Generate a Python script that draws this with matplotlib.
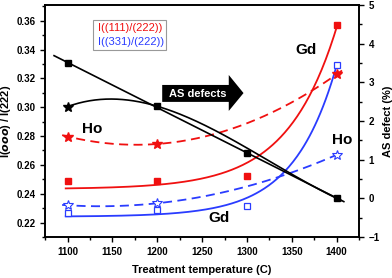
#!/usr/bin/env python3
"""Peak intensity ratios and AS defect content vs treatment temperature."""

import matplotlib

matplotlib.use("Agg")
import matplotlib.pyplot as plt
import numpy as np
from matplotlib.patches import Polygon

plt.rcParams["font.family"] = ["Liberation Sans", "DejaVu Sans"]
plt.rcParams["font.weight"] = "bold"

temps = [1100, 1200, 1300, 1400]

# left axis: intensity ratios
gd_111 = [0.2485, 0.2490, 0.2525, 0.3568]
gd_331 = [0.2266, 0.2284, 0.2315, 0.3296]
ho_temps = [1100, 1200, 1400]
ho_111 = [0.2797, 0.2745, 0.3228]
ho_331 = [0.2320, 0.2334, 0.2670]

# right axis: AS defect (%)
gd_as = [3.49, 2.38, 1.17, 0.00]
ho_as = [2.37, 2.38, 1.30, 0.00]

# growth constant of the exponential guide curves (C)
gd_tau = {"111": 55.0, "331": 48.0}

RED = "#f01010"
BLUE = "#2a3cff"


def fit_exp(x, y, tau, x_ref=1400.0):
    """y0 + A*exp((x-x_ref)/tau), least squares for y0 and A."""
    x = np.asarray(x, float)
    M = np.column_stack([np.ones_like(x), np.exp((x - x_ref) / tau)])
    (y0, a), *_ = np.linalg.lstsq(M, np.asarray(y, float), rcond=None)
    return lambda xx: y0 + a * np.exp((np.asarray(xx) - x_ref) / tau)


def main() -> None:
    fig = plt.figure(figsize=(3.92, 2.78), dpi=100)
    ax = fig.add_axes([0.115, 0.1475, 0.801, 0.835])
    ax2 = ax.twinx()

    # Gd: solid exponential guides
    xs = np.linspace(1098, 1400, 200)
    for vals, key, c in ((gd_111, "111", RED), (gd_331, "331", BLUE)):
        f = fit_exp(temps, vals, gd_tau[key])
        ax.plot(xs, f(xs), color=c, lw=1.3)
    ax.plot(temps, gd_111, "s", color=RED, ms=5)
    ax.plot(temps, gd_331, "s", mfc="white", mec=BLUE, mew=0.9, ms=5)

    # Ho: dashed polynomial guides
    xd = np.linspace(1094, 1406, 200)
    for vals, c in ((ho_111, RED), (ho_331, BLUE)):
        p = np.polyfit(ho_temps, vals, 2)
        ax.plot(xd, np.polyval(p, xd), color=c, lw=1.3, dashes=(5, 3))
    ax.plot(ho_temps, ho_111, "*", color=RED, ms=7)
    ax.plot(ho_temps, ho_331, "*", mfc="white", mec=BLUE, mew=0.8, ms=7)

    # AS defects (right axis)
    pl = np.polyfit(temps, gd_as, 1)
    xl = np.linspace(1085, 1408, 50)
    ax2.plot(xl, np.polyval(pl, xl), color="black", lw=1.2)
    pc = np.polyfit(temps, ho_as, 3)
    xc = np.linspace(1100, 1405, 200)
    ax2.plot(xc, np.polyval(pc, xc), color="black", lw=1.2)
    ax2.plot(temps, gd_as, "s", color="black", ms=5)
    # only the first star is not hidden behind a square
    ax2.plot(temps[:1], ho_as[:1], "*", color="black", ms=7)

    ax.set_xlim(1075, 1425)
    ax.set_ylim(0.21, 0.371)
    ax2.set_ylim(-1, 5)
    ax.set_xticks(np.arange(1100, 1401, 50))
    ax.set_xticks(np.arange(1075, 1426, 25), minor=True)
    ax.set_yticks(np.arange(0.22, 0.361, 0.02))
    ax.set_yticks(np.arange(0.21, 0.371, 0.01), minor=True)
    ax.yaxis.set_major_formatter(plt.FormatStrFormatter("%.2f"))
    ax2.set_yticks(range(-1, 6))
    ax2.set_yticks(np.arange(-1, 5.01, 0.5), minor=True)

    for a in (ax, ax2):
        a.tick_params(which="both", direction="out", labelsize=7, width=1.0)
        a.tick_params(which="major", length=3.5)
        a.tick_params(which="minor", length=2)
        for sp in a.spines.values():
            sp.set_linewidth(1.2)
    ax.tick_params(top=False, right=False)

    ax.set_xlabel("Treatment temperature (C)", fontsize=8, fontweight="bold", labelpad=6)
    ax.set_ylabel(r"I($\mathbf{\it{ooo}}$) / I(222)", fontsize=8, fontweight="bold", labelpad=2)
    ax2.set_ylabel("AS defect (%)", fontsize=8, fontweight="bold", labelpad=2)

    # legend-like box
    ax.text(0.168, 0.902, "I((111)/(222))", transform=ax.transAxes, color=RED,
            fontsize=8, fontweight="normal", ha="left", va="center")
    ax.text(0.168, 0.840, "I((331)/(222))", transform=ax.transAxes, color=BLUE,
            fontsize=8, fontweight="normal", ha="left", va="center")
    box = plt.Rectangle((0.153, 0.806), 0.232, 0.13, transform=ax.transAxes,
                        fill=False, ec="#999999", lw=0.8)
    ax.add_patch(box)

    # series labels
    for s, x, y in (("Ho", 0.15, 0.465), ("Gd", 0.83, 0.805),
                    ("Ho", 0.945, 0.42), ("Gd", 0.555, 0.082)):
        ax.text(x, y, s, transform=ax.transAxes, fontsize=11, fontweight="bold",
                ha="center", va="center")

    # AS defects arrow
    arrow = Polygon([(0.373, 0.582), (0.585, 0.582), (0.585, 0.543), (0.632, 0.620),
                     (0.585, 0.698), (0.585, 0.655), (0.373, 0.655)],
                    closed=True, transform=ax.transAxes, fc="black", ec="none", zorder=5)
    ax.add_patch(arrow)
    ax.text(0.487, 0.618, "AS defects", transform=ax.transAxes, color="white",
            fontsize=8, fontweight="bold", ha="center", va="center", zorder=6)

    fig.savefig("out.png", dpi=100)


if __name__ == "__main__":
    main()
